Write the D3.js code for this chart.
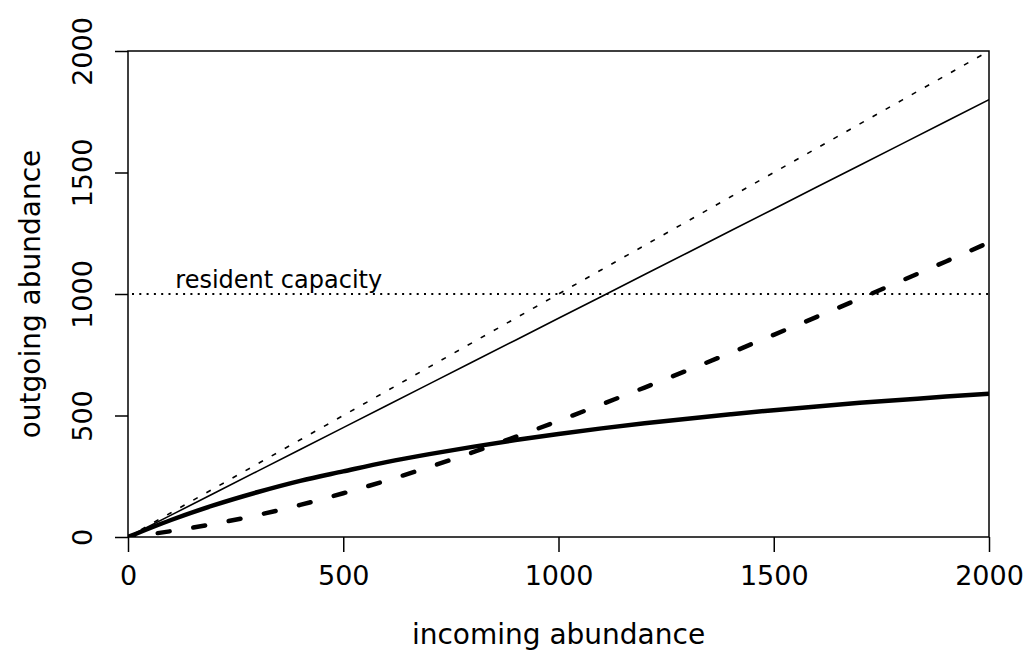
<!DOCTYPE html>
<html>
<head>
<meta charset="utf-8">
<script src="https://cdn.jsdelivr.net/npm/d3@7"></script>
<style>
  html, body { margin: 0; padding: 0; background: #fff; }
  svg { display: block; }
  text { font-family: "DejaVu Sans", sans-serif; fill: #000; }
</style>
</head>
<body>
<svg id="chart" width="1030" height="652"></svg>
<script>
// ---- data ----
const incoming = [0,100,200,300,400,500,600,700,800,900,1000,1100,1200,1300,1400,1500,1600,1700,1800,1900,2000];
const oneToOne = [0,100,200,300,400,500,600,700,800,900,1000,1100,1200,1300,1400,1500,1600,1700,1800,1900,2000];
const linearSurv = [0,90,180,270,360,450,540,630,720,810,900,990,1080,1170,1260,1350,1440,1530,1620,1710,1800];
const saturating = [0,70,131,184,231,270,308,341,371,399,424,447,468,487,505,522,537,552,565,578,590];
const accelerating = [0,24,54,90,132,180,232,288,348,412,478,546,615,686,758,832,906,981,1057,1134,1212];
const capacity = 1000;
const xTicks = [0,500,1000,1500,2000];
const yTicks = [0,500,1000,1500,2000];
const xTitle = "incoming abundance";
const yTitle = "outgoing abundance";
const capLabel = "resident capacity";

// ---- layout ----
const svg = d3.select("#chart");
const L = 128, R = 989, T = 51, B = 537;
const x = d3.scaleLinear().domain([0, 2000]).range([L, R]);
const y = d3.scaleLinear().domain([0, 2000]).range([B, T]);

const line = d3.line().x(d => x(d[0])).y(d => y(d[1]));
const zip = ys => incoming.map((v, i) => [v, ys[i]]);

// clip to plot region
svg.append("clipPath").attr("id", "clip")
  .append("rect").attr("x", L).attr("y", T).attr("width", R - L).attr("height", B - T);
const g = svg.append("g").attr("clip-path", "url(#clip)");

// capacity line (dotted)
g.append("path")
  .attr("d", line([[0, capacity], [2000, capacity]]))
  .attr("fill", "none").attr("stroke", "#000").attr("stroke-width", 2)
  .attr("stroke-dasharray", "2,5.3").attr("stroke-dashoffset", -4);

// 1:1 line (thin dashed)
g.append("path").attr("d", line(zip(oneToOne)))
  .attr("fill", "none").attr("stroke", "#000").attr("stroke-width", 1.6)
  .attr("stroke-dasharray", "5,10");

// linear survival (thin solid)
g.append("path").attr("d", line(zip(linearSurv)))
  .attr("fill", "none").attr("stroke", "#000").attr("stroke-width", 1.6);

// saturating (thick solid)
g.append("path").attr("d", d3.line().curve(d3.curveMonotoneX).x(d => x(d[0])).y(d => y(d[1]))(zip(saturating)))
  .attr("fill", "none").attr("stroke", "#000").attr("stroke-width", 4.5);

// accelerating (thick dashed)
g.append("path").attr("d", d3.line().curve(d3.curveMonotoneX).x(d => x(d[0])).y(d => y(d[1]))(zip(accelerating)))
  .attr("fill", "none").attr("stroke", "#000").attr("stroke-width", 4.5)
  .attr("stroke-linecap", "round")
  .attr("stroke-dasharray", "12,24").attr("stroke-dashoffset", -30);

// label
svg.append("text")
  .attr("x", x(110)).attr("y", y(capacity) - 6)
  .attr("font-size", 24)
  .text(capLabel);

// box
svg.append("rect").attr("x", L).attr("y", T).attr("width", R - L).attr("height", B - T)
  .attr("fill", "none").attr("stroke", "#000").attr("stroke-width", 1.5);

// x axis
const xAxis = svg.append("g").attr("transform", `translate(0,${B})`)
  .call(d3.axisBottom(x).tickValues(xTicks).tickSize(15).tickSizeOuter(0).tickPadding(14).tickFormat(d3.format("d")));
xAxis.select(".domain").remove();
xAxis.selectAll("line").attr("stroke-width", 1.5);
xAxis.selectAll("text").attr("font-size", 27).attr("font-family", "DejaVu Sans").attr("dy", "0.71em");

// y axis
const yAxis = svg.append("g").attr("transform", `translate(${L},0)`)
  .call(d3.axisLeft(y).tickValues(yTicks).tickSize(13).tickSizeOuter(0).tickPadding(0).tickFormat(d3.format("d")));
yAxis.select(".domain").remove();
yAxis.selectAll("line").attr("stroke-width", 1.5);
yAxis.selectAll("text")
  .attr("font-size", 27).attr("font-family", "DejaVu Sans")
  .attr("text-anchor", "middle").attr("dy", 0).attr("x", 0)
  .attr("transform", "translate(-36,0) rotate(-90)");

// titles
svg.append("text")
  .attr("x", (L + R) / 2).attr("y", 644)
  .attr("text-anchor", "middle").attr("font-size", 28)
  .text(xTitle);
svg.append("text")
  .attr("transform", `translate(40,${(T + B) / 2}) rotate(-90)`)
  .attr("text-anchor", "middle").attr("font-size", 28)
  .text(yTitle);
</script>
</body>
</html>
